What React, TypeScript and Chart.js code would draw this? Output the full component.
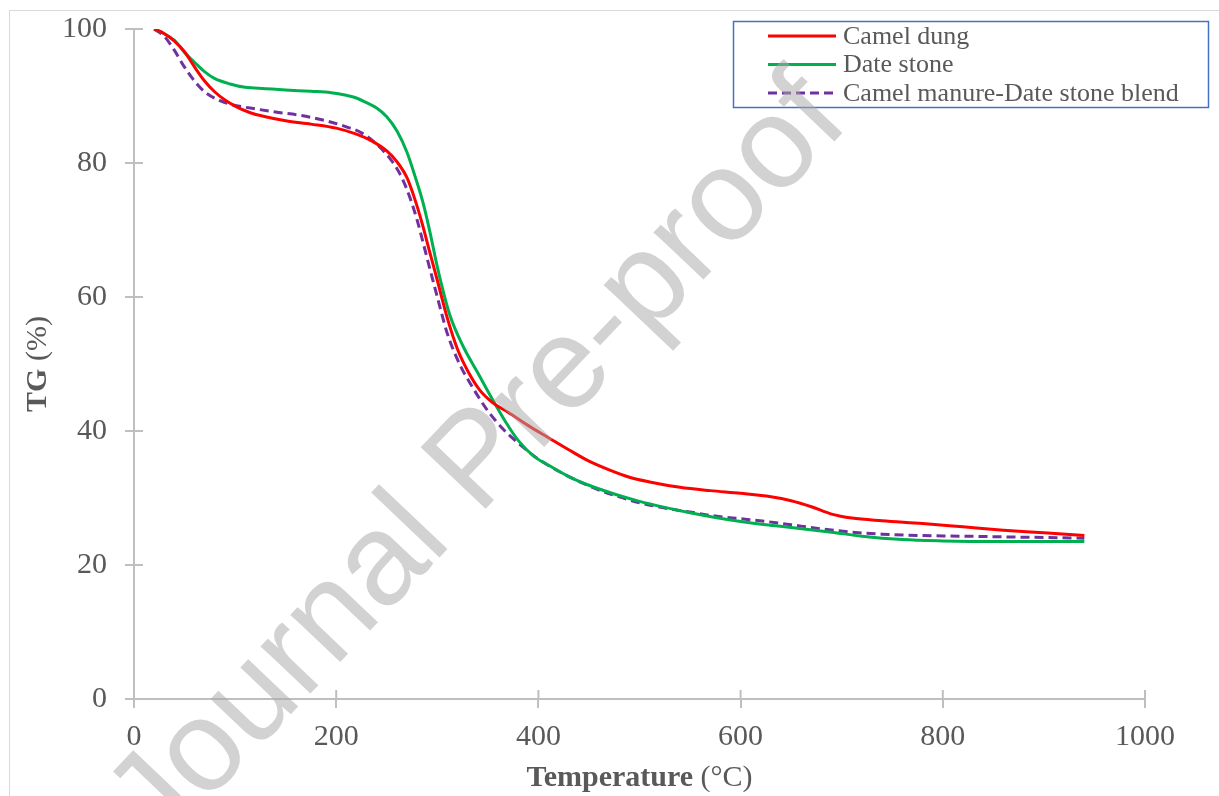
import React, { useEffect, useRef } from "react";
import { Chart, registerables } from "chart.js";

Chart.register(...registerables);

// ---- Data ----
const seriesLabels = ["Camel dung", "Date stone", "Camel manure-Date stone blend"];

const camelDungT = [20, 30, 40, 50, 60, 70, 80, 90, 100, 115, 130, 150, 175, 200, 220, 235, 250, 260, 270, 278, 285, 292, 300, 310, 320, 330, 342, 355, 370, 390, 410, 430, 450, 470, 490, 510, 540, 570, 600, 630, 650, 670, 690, 710, 740, 780, 820, 860, 900, 940];
const camelDungTG = [100, 99.3, 98.2, 96.6, 94.3, 92.2, 90.6, 89.4, 88.5, 87.5, 86.9, 86.3, 85.8, 85.2, 84.3, 83.3, 81.8, 80.2, 77.8, 74.5, 71, 67, 62.5, 56.8, 52.2, 49, 46.1, 44.2, 42.8, 40.8, 39, 37.2, 35.5, 34.2, 33.1, 32.4, 31.6, 31.1, 30.7, 30.2, 29.6, 28.7, 27.6, 27, 26.6, 26.2, 25.7, 25.2, 24.8, 24.4];

const dateStoneT = [20, 30, 40, 50, 60, 70, 80, 95, 110, 130, 150, 175, 195, 210, 220, 230, 240, 250, 260, 270, 278, 286, 293, 300, 312, 325, 340, 355, 367, 380, 395, 410, 430, 450, 475, 500, 525, 550, 575, 600, 625, 650, 690, 720, 760, 800, 850, 900, 940];
const dateStoneTG = [100, 99.3, 98.3, 96.5, 95, 93.6, 92.6, 91.8, 91.3, 91.1, 90.9, 90.7, 90.5, 90.1, 89.7, 89.0, 88.2, 86.9, 84.8, 81.6, 78, 74, 69.5, 64.5, 57.5, 52.8, 48.7, 44.6, 41.5, 38.6, 36.3, 34.9, 33.2, 31.9, 30.6, 29.5, 28.6, 27.8, 27.1, 26.5, 26, 25.6, 24.9, 24.3, 23.8, 23.6, 23.5, 23.5, 23.5];

const blendT = [20, 30, 40, 50, 60, 70, 85, 100, 115, 140, 165, 190, 210, 225, 240, 255, 265, 273, 280, 287, 293, 300, 310, 322, 335, 350, 365, 380, 400, 425, 450, 475, 500, 525, 550, 575, 600, 625, 650, 680, 710, 740, 780, 820, 860, 900, 940];
const blendTG = [100, 98.9, 96.8, 94.3, 92.2, 90.6, 89.3, 88.6, 88.2, 87.6, 87.1, 86.3, 85.4, 84.5, 82.8, 80.3, 77.8, 74.8, 71.5, 67.5, 64, 60, 54.5, 50, 46.5, 43, 40.3, 38.2, 35.8, 33.6, 31.8, 30.4, 29.3, 28.5, 27.9, 27.3, 26.9, 26.5, 26, 25.4, 24.9, 24.6, 24.4, 24.3, 24.2, 24.1, 24.0];

const xTitleBold = "Temperature";
const xTitleRest = " (°C)";
const yTitleBold = "TG";
const yTitleRest = " (%)";
const watermarkText = "Journal Pre-proof";

const serif = "'Liberation Serif', 'Times New Roman', serif";
const textColor = "#595959";
const axisColor = "#BFBFBF";

const toPoints = (xs: number[], ys: number[]) => xs.map((x, i) => ({ x, y: ys[i] }));

const decorPlugin = {
  id: "decor",
  beforeDatasetsDraw(chart: any) {
    const ctx = chart.ctx;
    const xs = chart.scales.x;
    const ys = chart.scales.y;
    const area = chart.chartArea;
    ctx.save();
    ctx.strokeStyle = axisColor;
    ctx.lineWidth = 2;
    // inner halves of the crossing tick marks
    ys.ticks.forEach((t: any) => {
      const y = ys.getPixelForValue(t.value);
      ctx.beginPath();
      ctx.moveTo(area.left, y);
      ctx.lineTo(area.left + 9, y);
      ctx.stroke();
    });
    xs.ticks.forEach((t: any) => {
      const x = xs.getPixelForValue(t.value);
      ctx.beginPath();
      ctx.moveTo(x, area.bottom);
      ctx.lineTo(x, area.bottom - 9);
      ctx.stroke();
    });
    ctx.restore();
  },
  afterDatasetsDraw(chart: any) {
    const ctx = chart.ctx;
    const area = chart.chartArea;
    ctx.save();
    // outer chart border
    ctx.strokeStyle = "#D9D9D9";
    ctx.lineWidth = 1;
    ctx.strokeRect(9.5, 10.5, 3000, 3000);

    // legend
    const bx = 733.5, by = 21.5, bw = 475, bh = 86;
    ctx.fillStyle = "#ffffff";
    ctx.fillRect(bx, by, bw, bh);
    ctx.strokeStyle = "#4472C4";
    ctx.lineWidth = 1.5;
    ctx.strokeRect(bx, by, bw, bh);
    const rows = [36, 64.5, 93];
    chart.data.datasets.forEach((ds: any, i: number) => {
      const y = rows[i];
      ctx.strokeStyle = ds.borderColor;
      ctx.lineWidth = 3;
      ctx.setLineDash(ds.borderDash || []);
      ctx.beginPath();
      ctx.moveTo(768, y);
      ctx.lineTo(836, y);
      ctx.stroke();
      ctx.setLineDash([]);
      ctx.fillStyle = textColor;
      ctx.font = `26px ${serif}`;
      ctx.textAlign = "left";
      ctx.textBaseline = "middle";
      ctx.fillText(ds.label, 843, y + 1);
    });

    // axis titles
    ctx.fillStyle = textColor;
    ctx.textBaseline = "middle";
    ctx.textAlign = "left";
    const boldFont = `bold 30px ${serif}`;
    const normFont = `30px ${serif}`;
    ctx.font = boldFont;
    const xb = ctx.measureText(xTitleBold).width;
    ctx.font = normFont;
    const xr = ctx.measureText(xTitleRest).width;
    const cx = (area.left + area.right) / 2;
    const sx = cx - (xb + xr) / 2;
    ctx.font = boldFont;
    ctx.fillText(xTitleBold, sx, 778);
    ctx.font = normFont;
    ctx.fillText(xTitleRest, sx + xb, 778);

    ctx.font = boldFont;
    const yb = ctx.measureText(yTitleBold).width;
    ctx.font = normFont;
    const yr = ctx.measureText(yTitleRest).width;
    ctx.save();
    ctx.translate(38, (area.top + area.bottom) / 2);
    ctx.rotate(-Math.PI / 2);
    const sy = -(yb + yr) / 2;
    ctx.font = boldFont;
    ctx.fillText(yTitleBold, sy, 0);
    ctx.font = normFont;
    ctx.fillText(yTitleRest, sy + yb, 0);
    ctx.restore();
    ctx.restore();
  },
  afterDraw(chart: any) {
    const ctx = chart.ctx;
    ctx.save();
    ctx.fillStyle = "rgba(168,168,168,0.52)";
    ctx.font = `130px 'Liberation Sans', Arial, sans-serif`;
    ctx.textAlign = "left";
    ctx.textBaseline = "alphabetic";
    ctx.translate(160, 852);
    ctx.rotate((-46.5 * Math.PI) / 180);
    ctx.fillText(watermarkText, 0, 0);
    ctx.restore();
  },
};

export default function App() {
  const canvasRef = useRef<HTMLCanvasElement | null>(null);

  useEffect(() => {
    document.body.style.margin = "0";
    document.body.style.overflow = "hidden";
    const canvas = canvasRef.current;
    if (!canvas) return;
    const chart = new Chart(canvas, {
      type: "line",
      data: {
        datasets: [
          {
            label: seriesLabels[0],
            data: toPoints(camelDungT, camelDungTG),
            borderColor: "#FF0000",
            backgroundColor: "#FF0000",
            borderWidth: 3,
            pointRadius: 0,
            cubicInterpolationMode: "monotone",
            fill: false,
          },
          {
            label: seriesLabels[1],
            data: toPoints(dateStoneT, dateStoneTG),
            borderColor: "#00B050",
            backgroundColor: "#00B050",
            borderWidth: 3,
            pointRadius: 0,
            cubicInterpolationMode: "monotone",
            fill: false,
          },
          {
            label: seriesLabels[2],
            data: toPoints(blendT, blendTG),
            borderColor: "#7030A0",
            backgroundColor: "#7030A0",
            borderWidth: 3,
            borderDash: [9, 5],
            pointRadius: 0,
            cubicInterpolationMode: "monotone",
            fill: false,
          },
        ],
      },
      options: {
        animation: false,
        responsive: false,
        devicePixelRatio: 1,
        layout: { padding: { top: 29, right: 74, left: 0, bottom: 0 } },
        plugins: {
          legend: { display: false },
          tooltip: { enabled: false },
          title: { display: false },
        },
        scales: {
          x: {
            type: "linear",
            min: 0,
            max: 1000,
            ticks: {
              stepSize: 200,
              color: textColor,
              font: { family: serif, size: 30 },
              padding: 11,
              maxRotation: 0,
              callback: (v: any) => String(v),
            },
            grid: {
              drawOnChartArea: false,
              drawTicks: true,
              tickLength: 9,
              color: axisColor,
              lineWidth: 2,
            },
            border: { color: axisColor, width: 2 },
            afterFit: (s: any) => {
              s.height = 97;
              s.paddingLeft = 0;
              s.paddingRight = 0;
            },
          },
          y: {
            min: 0,
            max: 100,
            ticks: {
              stepSize: 20,
              color: textColor,
              font: { family: serif, size: 30 },
              padding: 18,
              callback: (v: any) => String(v),
            },
            grid: {
              drawOnChartArea: false,
              drawTicks: true,
              tickLength: 9,
              color: axisColor,
              lineWidth: 2,
            },
            border: { color: axisColor, width: 2 },
            afterFit: (s: any) => {
              s.width = 134;
              s.paddingTop = 0;
              s.paddingBottom = 0;
            },
          },
        },
      } as any,
      plugins: [decorPlugin],
    });
    return () => chart.destroy();
  }, []);

  return (
    <div style={{ width: 1219, height: 796, background: "#ffffff" }}>
      <canvas ref={canvasRef} width={1219} height={796} style={{ display: "block" }} />
    </div>
  );
}
